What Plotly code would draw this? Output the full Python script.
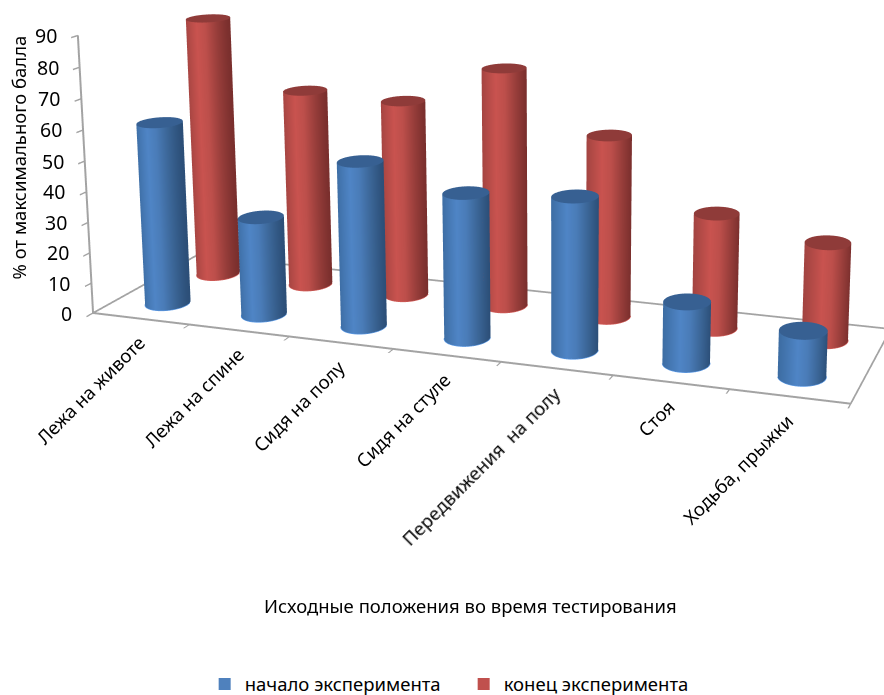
import numpy as np
import plotly.graph_objects as go

categories = ["Лежа на животе", "Лежа на спине", "Сидя на полу", "Сидя на стуле",
              "Передвижения  на полу", "Стоя", "Ходьба, прыжки"]
start_values = [60, 32, 53, 46, 48, 19, 14]
end_values = [88, 66, 65, 78, 59, 37, 31]
value_ticks = [0, 10, 20, 30, 40, 50, 60, 70, 80, 90]
series_names = ["начало эксперимента", "конец эксперимента"]
FONT = "Noto Sans"
TEXT_SIZE = 18.5

# Plotly's field of view is fixed, so a long lens needs a tall canvas;
# the canvas is then offset so the principal point lands at (PX, PY) in the window.
FOCAL = 1946.0
DIST = 3.0
psi, el = 0.3305, 0.2193
a, b, c = 1.2368, 0.3410, 0.4573
PX, PY = 558.8, 107.5
cx, cz = 0.1219, 0.1312

H = FOCAL / 1.2071
W = 2 * max(PX, 884 - PX)
left = W / 2 - PX
top = H / 2 - PY


def paper_x(u):
    return (u + left) / W


def paper_y(v):
    return 1 - (v + top) / H


view = np.array([np.sin(psi) * np.cos(el), -np.cos(psi) * np.cos(el), np.sin(el)])
eye = np.array([cx, 0, cz]) + DIST * view

BLUE = [[0, "#3D6DA3"], [.35, "#4F85C6"], [.55, "#4A7CB8"], [.8, "#3A6494"], [1, "#2C4F78"]]
RED = [[0, "#A34441"], [.35, "#C9534F"], [.55, "#BD4F4B"], [.8, "#963D3A"], [1, "#7A2F2D"]]
CAP_BLUE, CAP_RED = "#376092", "#8F3B39"
RIM_BLUE, RIM_RED = "#5C9AE6", "#D25D59"
FRAME = "#A3A3A3"
flat = dict(ambient=1, diffuse=0, specular=0, roughness=1, fresnel=0)

R = 0.2
rx = R
ry = 1.15 * R * (a / 7) / (b / 2)
th = np.linspace(0, 2 * np.pi, 73)
front = np.linspace(np.pi + psi, 2 * np.pi + psi, 37)
right = np.array([np.cos(psi), np.sin(psi)])


def cylinder(i, yc, v, scale, cap, rim):
    """Side wall shaded across the view direction, a flat lid, and a lit lower rim."""
    xc = i + .5
    xs = xc + rx * np.cos(th)
    ys = yc + ry * np.sin(th)
    u = np.cos(th) * right[0] + np.sin(th) * right[1]
    side = go.Surface(x=np.vstack([xs, xs]), y=np.vstack([ys, ys]),
                      z=np.vstack([0 * th, 0 * th + v]), surfacecolor=np.vstack([u, u]),
                      colorscale=scale, cmin=-1, cmax=1, showscale=False,
                      lighting=flat, hoverinfo="skip", showlegend=False)
    rr = np.array([0, 1.])[:, None]
    lid = go.Surface(x=xc + rx * rr * np.cos(th), y=yc + ry * rr * np.sin(th),
                     z=np.full((2, len(th)), float(v)),
                     surfacecolor=np.zeros((2, len(th))), colorscale=[[0, cap], [1, cap]],
                     showscale=False, lighting=flat, hoverinfo="skip", showlegend=False)
    edge = go.Scatter3d(x=xc + rx * np.cos(front), y=yc + ry * np.sin(front), z=0 * front,
                        mode="lines", line=dict(color=rim, width=2), hoverinfo="skip",
                        showlegend=False)
    return [side, lid, edge]


fig = go.Figure()
for i, v in enumerate(end_values):
    fig.add_traces(cylinder(i, 1.5, v, RED, CAP_RED, RIM_RED))
for i, v in enumerate(start_values):
    fig.add_traces(cylinder(i, .5, v, BLUE, CAP_BLUE, RIM_BLUE))

# floor outline and the upright value axis
fig.add_trace(go.Scatter3d(x=[0, 7, 7, 0, 0, 0], y=[0, 0, 2, 2, 0, 0], z=[0, 0, 0, 0, 0, 90],
                           mode="lines", line=dict(color=FRAME, width=3.5),
                           hoverinfo="skip", showlegend=False))
for name, col in zip(series_names, ["#4F81BD", "#C0504D"]):
    fig.add_trace(go.Scatter3d(x=[None], y=[None], z=[None], mode="markers", name=name,
                               marker=dict(symbol="square", size=12, color=col)))

labels = []
for i, t in enumerate(categories):
    labels.append(dict(x=i + .5, y=0, z=0, text=t, showarrow=False, textangle=-45,
                       xanchor="right", yanchor="top", xshift=12, yshift=-9,
                       font=dict(family=FONT, size=TEXT_SIZE, color="black")))
for v in value_ticks:
    labels.append(dict(x=0, y=0, z=v, text=str(v), showarrow=False, xanchor="right",
                       yanchor="middle", xshift=-19,
                       font=dict(family=FONT, size=19.5, color="black")))

axis = dict(showbackground=False, showgrid=False, zeroline=False, showspikes=False,
            showticklabels=False, title="", showline=True, linecolor=FRAME, linewidth=4,
            ticks="outside", ticklen=6, tickcolor=FRAME, tickwidth=3)
fig.update_layout(
    width=W, height=H, margin=dict(l=0, r=0, t=0, b=0), paper_bgcolor="white", autosize=False,
    scene=dict(domain=dict(x=[0, 1], y=[0, 1]), aspectmode="manual",
               aspectratio=dict(x=a, y=b, z=c),
               camera=dict(eye=dict(x=eye[0], y=eye[1], z=eye[2]),
                           center=dict(x=cx, y=0, z=cz), up=dict(x=0, y=0, z=1),
                           projection=dict(type="perspective")),
               xaxis=dict(axis, range=[0, 7], tickvals=list(range(8))),
               yaxis=dict(axis, range=[0, 2], ticks="", showline=False),
               zaxis=dict(axis, range=[0, 90], tickvals=value_ticks),
               annotations=labels),
    legend=dict(orientation="h", x=paper_x(463.5), y=paper_y(685), xanchor="center", yanchor="middle",
                itemwidth=30, entrywidth=214, font=dict(family=FONT, size=TEXT_SIZE, color="black")),
    annotations=[
        dict(x=paper_x(470), y=paper_y(606), xref="paper", yref="paper", xanchor="center",
             yanchor="middle", text="Исходные положения во время тестирования", showarrow=False,
             font=dict(family=FONT, size=TEXT_SIZE, color="black")),
        dict(x=paper_x(18), y=paper_y(158), xref="paper", yref="paper", xanchor="center",
             yanchor="middle", text="% от максимального балла", textangle=-90, showarrow=False,
             font=dict(family=FONT, size=TEXT_SIZE, color="black")),
    ])
post = ("var g=document.getElementById('{plot_id}');g.style.position='absolute';"
        "g.style.left='%.1fpx';g.style.top='%.1fpx';"
        "document.documentElement.style.overflow='hidden';"
        "document.body.style.overflow='hidden';") % (-left, -top)
fig.write_html("out.html", post_script=post)
